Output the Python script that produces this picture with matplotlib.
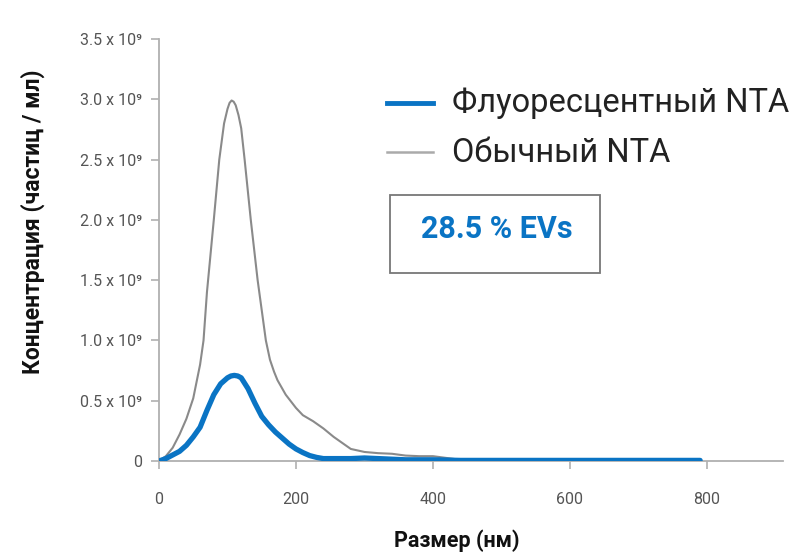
import matplotlib
matplotlib.use("Agg")
import matplotlib.pyplot as plt
from matplotlib.ticker import FixedLocator, FixedFormatter

# Particle size distribution (nm) and concentration (x 10^9 particles / ml)
size_gray = [0, 10, 20, 30, 40, 50, 60, 65, 70, 75, 80, 88, 95, 100, 103, 106,
             109, 112, 116, 120, 125, 134, 144, 156, 162, 168, 173, 185, 200,
             210, 225, 240, 255, 270, 280, 300, 320, 340, 360, 380, 400, 420,
             440, 460, 600, 790]
conc_gray = [0, 0.04, 0.11, 0.22, 0.35, 0.52, 0.8, 1.0, 1.4, 1.7, 2.0, 2.5,
             2.8, 2.92, 2.97, 2.99, 2.98, 2.95, 2.87, 2.76, 2.5, 2.0, 1.5, 1.0,
             0.84, 0.74, 0.67, 0.55, 0.44, 0.38, 0.33, 0.27, 0.2, 0.14, 0.10,
             0.075, 0.065, 0.06, 0.045, 0.04, 0.04, 0.025, 0.01, 0.0, 0.0, 0.0]

size_blue = [0, 10, 20, 30, 40, 50, 60, 70, 80, 90, 100, 105, 110, 115, 120,
             130, 140, 150, 160, 170, 180, 190, 200, 210, 220, 230, 240, 260,
             280, 300, 320, 340, 360, 400, 440, 600, 790]
conc_blue = [0, 0.02, 0.05, 0.08, 0.13, 0.2, 0.28, 0.42, 0.55, 0.64, 0.69,
             0.705, 0.71, 0.705, 0.69, 0.6, 0.48, 0.37, 0.3, 0.24, 0.19, 0.14,
             0.1, 0.07, 0.045, 0.03, 0.02, 0.02, 0.02, 0.025, 0.02, 0.015,
             0.01, 0.01, 0.005, 0.005, 0.005]

x_ticks = [0, 200, 400, 600, 800]
y_ticks = [0, 0.5, 1.0, 1.5, 2.0, 2.5, 3.0, 3.5]
y_tick_labels = ["0", "0.5 x 10\u2079", "1.0 x 10\u2079", "1.5 x 10\u2079",
                 "2.0 x 10\u2079", "2.5 x 10\u2079", "3.0 x 10\u2079",
                 "3.5 x 10\u2079"]

label_fluo = "Флуоресцентный NTA"
label_plain = "Обычный NTA"
ev_share = "28.5 % EVs"

BLUE = "#0a74c4"
GRAY = "#8a8a8a"
AXIS = "#b0b0b0"

plt.rcParams["font.family"] = ["Roboto", "DejaVu Sans"]

W, H = 804, 553
fig = plt.figure(figsize=(W / 100, H / 100), dpi=100)
ax = fig.add_axes([159 / W, 1 - 461 / H, (783 - 159) / W, (461 - 39) / H])

ax.plot(size_gray, conc_gray, color=GRAY, lw=1.5, solid_capstyle="round",
        solid_joinstyle="round", zorder=2)
ax.plot(size_blue, conc_blue, color=BLUE, lw=3.8, solid_capstyle="round",
        solid_joinstyle="round", zorder=3)

ax.set_xlim(0, 911)
ax.set_ylim(0, 3.5)

for side in ("top", "right"):
    ax.spines[side].set_visible(False)
for side in ("left", "bottom"):
    ax.spines[side].set_color(AXIS)
    ax.spines[side].set_linewidth(1.3)

ax.xaxis.set_major_locator(FixedLocator(x_ticks))
ax.yaxis.set_major_locator(FixedLocator(y_ticks))
ax.yaxis.set_major_formatter(FixedFormatter(y_tick_labels))
ax.tick_params(axis="both", colors=AXIS, length=6, width=1.2,
               labelcolor="#555555", labelsize=11.5)
ax.tick_params(axis="x", pad=16)
ax.tick_params(axis="y", pad=6)

# Axis titles
fig.text(457 / W, 1 - 529 / H, "Размер (нм)", fontsize=15.5, fontweight="bold",
         color="#111111", ha="center", va="top")
fig.text(33 / W, 1 - 222 / H, "Концентрация (частиц / мл)", fontsize=16.5,
         fontweight="bold", color="#111111", ha="center", va="center",
         rotation=90)

# Legend drawn by hand
fig.lines.append(plt.Line2D([387 / W, 433 / W], [1 - 103 / H, 1 - 103 / H],
                            color=BLUE, lw=3.5, transform=fig.transFigure))
fig.lines.append(plt.Line2D([387 / W, 433 / W], [1 - 152 / H, 1 - 152 / H],
                            color="#aaaaaa", lw=1.8, transform=fig.transFigure))
fig.text(452 / W, 1 - 112 / H, label_fluo, fontsize=23.5, color="#222222",
         va="baseline", ha="left")
fig.text(452 / W, 1 - 162 / H, label_plain, fontsize=23.5, color="#222222",
         va="baseline", ha="left")

# Boxed share of extracellular vesicles
box = plt.Rectangle((390 / W, 1 - 273 / H), 210 / W, 78 / H,
                    transform=fig.transFigure, fill=False, edgecolor="#777777",
                    lw=1.3)
fig.patches.append(box)
fig.text(497 / W, 1 - 238 / H, ev_share, fontsize=22, fontweight="bold",
         color=BLUE, ha="center", va="baseline")

fig.savefig("out.png", dpi=100)
